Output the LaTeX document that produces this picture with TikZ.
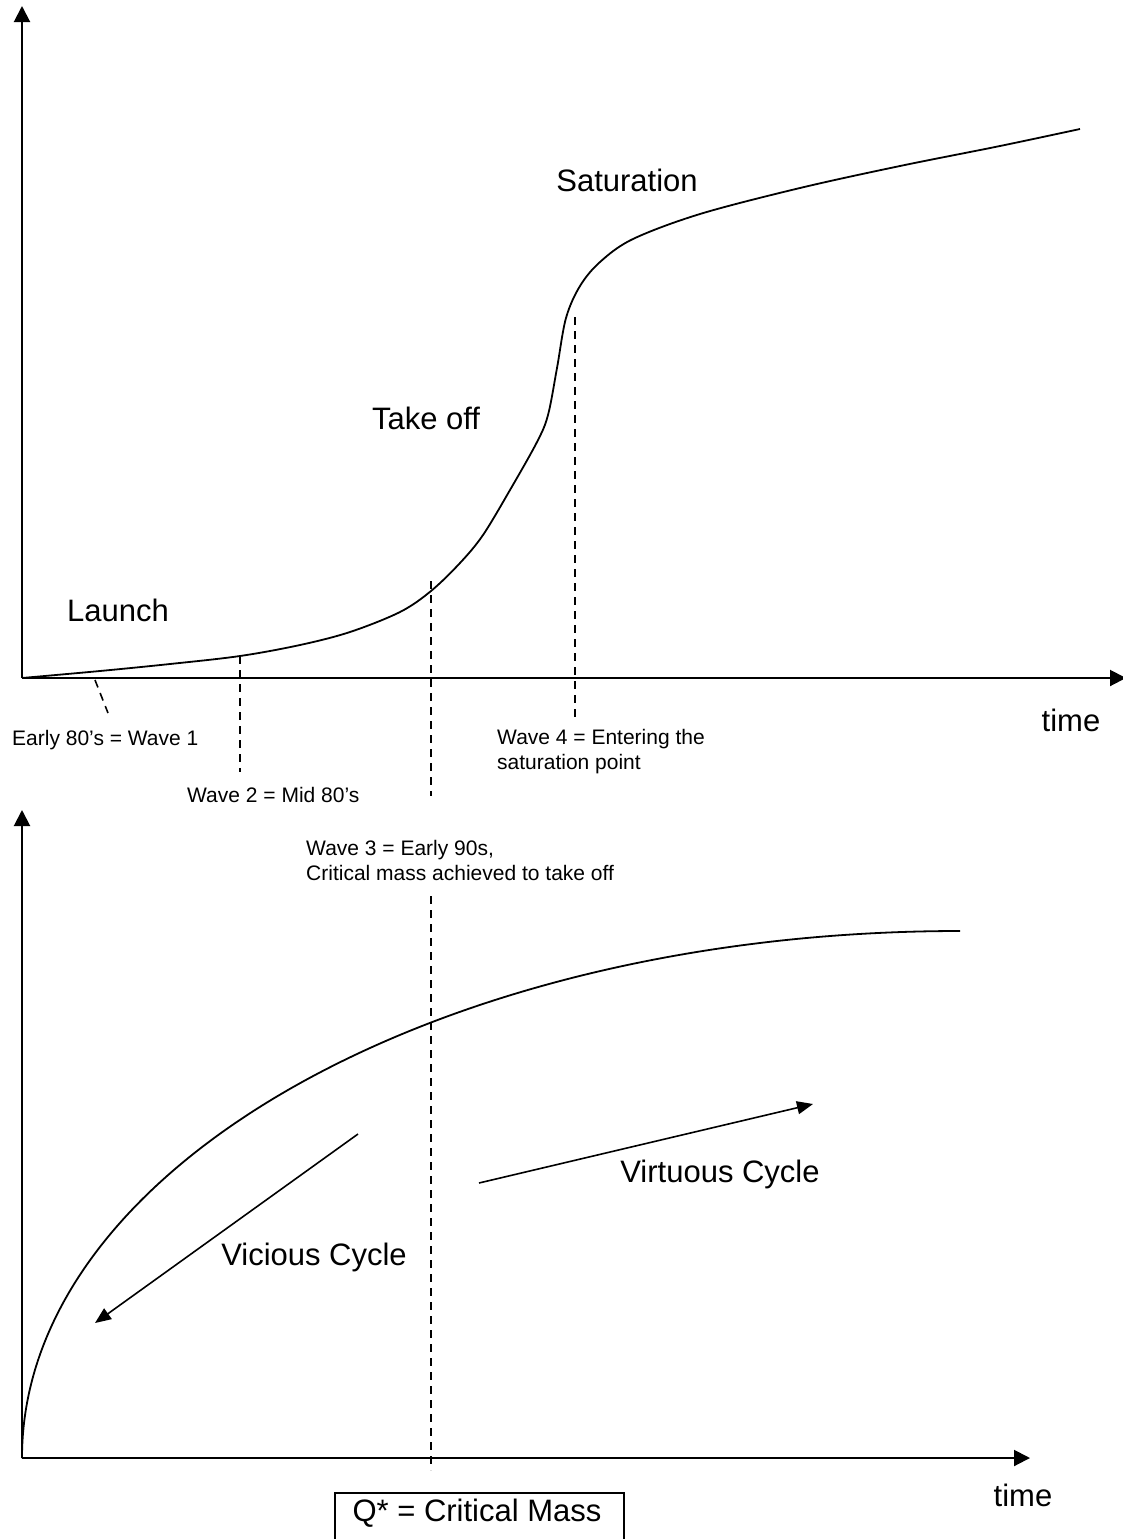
\documentclass[tikz,border=0pt]{standalone}
\usepackage{fontspec}
\setmainfont{Liberation Sans}
\usetikzlibrary{arrows.meta}
\begin{document}
\begin{tikzpicture}[x=1pt,y=-1pt,
  axis/.style={line width=2pt,-{Triangle[length=16pt,width=16pt]}},
  curve/.style={line width=1.8pt},
  guide/.style={line width=1.6pt,dash pattern=on 8pt off 6pt},
  cyclearrow/.style={line width=1.6pt,-{Triangle[length=16pt,width=13pt]}},
  big/.style={font=\fontsize{31}{36}\selectfont,inner sep=0pt},
  small/.style={font=\fontsize{21}{25}\selectfont,inner sep=0pt,align=left},
]
\useasboundingbox (0,0) rectangle (1122,1539);
\fill[white] (0,0) rectangle (1122,1539);

% ---------- top chart ----------
\coordinate (o1) at (22,678);
\coordinate (y1) at (22,6);
\coordinate (x1) at (1126,678);
\draw[axis] (o1) -- (y1);
\draw[axis] (o1) -- (x1);

\draw[curve] plot[smooth,tension=0.55] coordinates {
  (22,678) (100,671) (170,664) (240,656) (300,645) (350,632) (400,612)
  (431,591) (460,563) (483,535) (510,490) (537,442) (548,415) (557,368)
  (566,318) (580,286) (600,262) (633,239) (700,214) (800,188) (900,166)
  (1000,146) (1080,129)};

\coordinate (w1a) at (95,680);  \coordinate (w1b) at (108,713);
\coordinate (w2a) at (240,656); \coordinate (w2b) at (240,772);
\coordinate (w3a) at (431,581); \coordinate (w3b) at (431,796);
\coordinate (w4a) at (575,317); \coordinate (w4b) at (575,718);
\draw[guide] (w1a) -- (w1b);
\draw[guide] (w2a) -- (w2b);
\draw[guide] (w3a) -- (w3b);
\draw[guide] (w4a) -- (w4b);

\node[big] (launch) at (118,610) {Launch};
\node[big] (takeoff) at (426,418) {Take off};
\node[big] (sat) at (627,180) {Saturation};
\node[big] (time1) at (1071,720) {time};

\node[small,anchor=west] (l1) at (12,740) {Early 80’s = Wave 1};
\node[small,anchor=west] (l2) at (187,795) {Wave 2 = Mid 80’s};
\node[small,anchor=west] (l4) at (497,752) {Wave 4 = Entering the\\saturation point};
\node[small,anchor=west] (l3) at (306,860) {Wave 3 = Early 90s,\\Critical mass achieved to take off};

% ---------- bottom chart ----------
\coordinate (o2) at (22,1458);
\coordinate (y2) at (22,810);
\coordinate (x2) at (1030,1458);
\draw[axis] (o2) -- (y2);
\draw[axis] (o2) -- (x2);

\coordinate (cend) at (960,931);
\draw[curve] (o2) .. controls (22,1166) and (442,931) .. (cend);

\coordinate (qa) at (431,896); \coordinate (qb) at (431,1470);
\draw[guide] (qa) -- (qb);

\coordinate (va) at (358,1134); \coordinate (vb) at (95,1323);
\draw[cyclearrow] (va) -- (vb);
\coordinate (ua) at (479,1183); \coordinate (ub) at (813,1104);
\draw[cyclearrow] (ua) -- (ub);

\node[big] (vicious) at (314,1257) {Vicious Cycle};
\node[big] (virtuous) at (720,1174) {Virtuous Cycle};
\node[big] (time2) at (1023,1495) {time};

\node[draw,line width=1.6pt,minimum width=289pt,minimum height=60pt,anchor=north west,inner sep=0pt] (qbox) at (334,1492) {};
\node[big] (qtext) at (477,1513) {Q* = Critical Mass};
\end{tikzpicture}
\end{document}
